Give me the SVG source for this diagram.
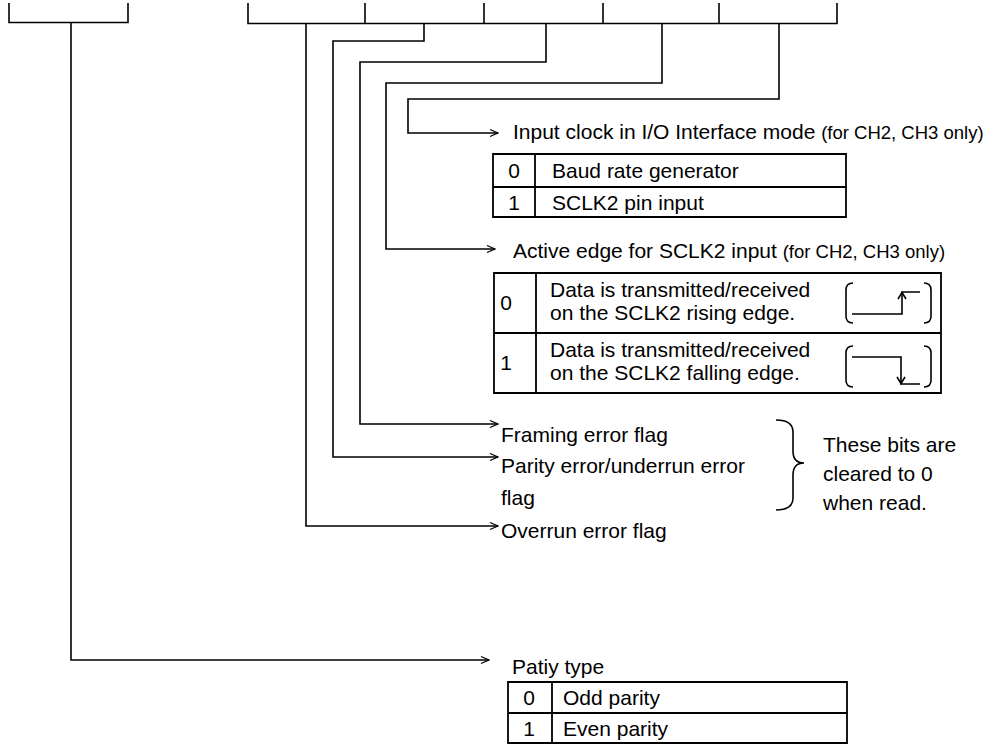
<svg xmlns="http://www.w3.org/2000/svg" width="1008" height="744" viewBox="0 0 1008 744">
<defs>
<style>
.ln{fill:none;stroke:#000;stroke-width:1.6}
.bx{fill:none;stroke:#000;stroke-width:1.8}
.t{font-family:"Liberation Sans",Arial,sans-serif;font-size:21px;fill:#000}
.s{font-size:18.5px}
.c{text-anchor:middle}
</style>
<marker id="ar" viewBox="0 0 10 10" refX="9" refY="5" markerWidth="10" markerHeight="10" markerUnits="userSpaceOnUse" orient="auto">
<path d="M1 1.5 L9 5 L1 8.5" fill="none" stroke="#000" stroke-width="1.3"/>
</marker>
</defs>
<rect width="1008" height="744" fill="#fff"/>
<g id="bits-left">
<path class="ln" d="M9 3 V22.5 H128 V3"/>
</g>
<g id="bits-right">
<path class="ln" d="M248 3 V23.5 H837 V3 M365 3 V23.5 M484 3 V23.5 M603 3 V23.5 M719 3 V23.5"/>
</g>
<g id="connectors">
<path class="ln" marker-end="url(#ar)" d="M779 23.5 V99 H408 V133 H498"/>
<path class="ln" marker-end="url(#ar)" d="M662 23.5 V83 H386 V249 H495"/>
<path class="ln" marker-end="url(#ar)" d="M546 23.5 V62 H360 V424 H498"/>
<path class="ln" marker-end="url(#ar)" d="M424 23.5 V41 H333 V457 H498"/>
<path class="ln" marker-end="url(#ar)" d="M306 23.5 V526 H498"/>
<path class="ln" marker-end="url(#ar)" d="M71 22.5 V660 H489"/>
</g>
<g id="input-clock">
<text class="t" x="513" y="139">Input clock in I/O Interface mode <tspan class="s">(for CH2, CH3 only)</tspan></text>
<path class="bx" d="M493 154 H846 V217 H493 Z M493 187 H846 M535 154 V217"/>
<text class="t c" x="514" y="178">0</text>
<text class="t" x="552" y="178">Baud rate generator</text>
<text class="t c" x="514" y="210">1</text>
<text class="t" x="552" y="210">SCLK2 pin input</text>
</g>
<g id="active-edge">
<text class="t" x="513" y="258">Active edge for SCLK2 input <tspan class="s">(for CH2, CH3 only)</tspan></text>
<path class="bx" d="M494 273 H941 V393 H494 Z M494 333 H941 M536 273 V393"/>
<text class="t c" x="506" y="310">0</text>
<text class="t" x="550" y="297">Data is transmitted/received</text>
<text class="t" x="550" y="320">on the SCLK2 rising edge.</text>
<text class="t c" x="506" y="370">1</text>
<text class="t" x="550" y="357">Data is transmitted/received</text>
<text class="t" x="550" y="380">on the SCLK2 falling edge.</text>
<path class="ln" d="M853 283 Q846 283 846 290 V316 Q846 323 853 323 M924 283 Q931 283 931 290 V316 Q931 323 924 323"/>
<path class="ln" d="M852 314 H902 V292 H920"/>
<path class="ln" d="M898 299 L902 292.5 L906 299"/>
<path class="ln" d="M853 346 Q846 346 846 353 V380 Q846 387 853 387 M924 346 Q931 346 931 353 V380 Q931 387 924 387"/>
<path class="ln" d="M852 357 H901 V384 H920"/>
<path class="ln" d="M897 377 L901 383.5 L905 377"/>
</g>
<g id="flags">
<text class="t" x="501" y="442">Framing error flag</text>
<text class="t" x="501" y="473">Parity error/underrun error</text>
<text class="t" x="501" y="505">flag</text>
<text class="t" x="501" y="538">Overrun error flag</text>
</g>
<g id="note">
<path class="ln" d="M776 420 Q793 420 793 432 V451 Q793 463 804 463 Q793 463 793 475 V498 Q793 510 776 510"/>
<text class="t" x="823" y="452">These bits are</text>
<text class="t" x="823" y="481">cleared to 0</text>
<text class="t" x="823" y="510">when read.</text>
</g>
<g id="parity-type">
<text class="t" x="512" y="674">Patiy type</text>
<path class="bx" d="M508 682 H847 V743 H508 Z M508 713 H847 M552 682 V743"/>
<text class="t c" x="529" y="705">0</text>
<text class="t" x="563" y="705">Odd parity</text>
<text class="t c" x="529" y="736">1</text>
<text class="t" x="563" y="736">Even parity</text>
</g>
</svg>
